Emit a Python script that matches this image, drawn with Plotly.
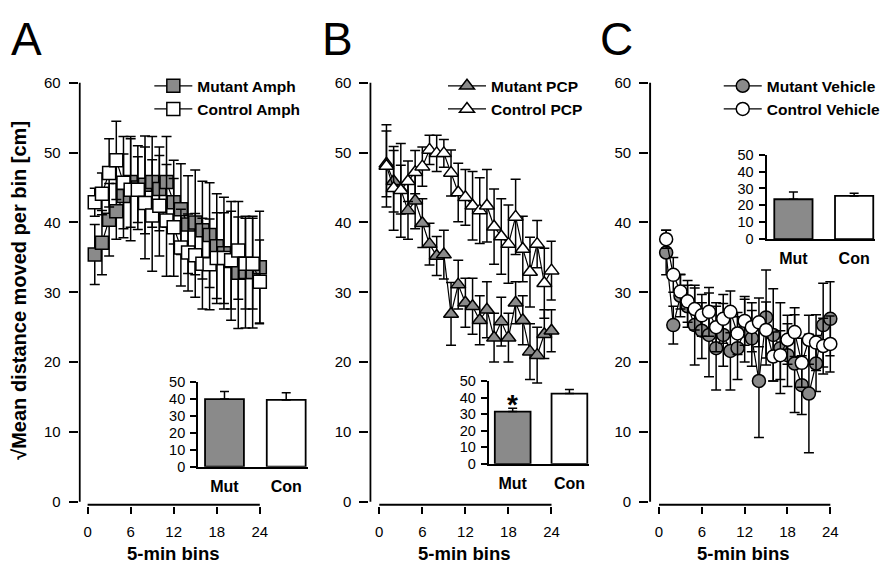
import plotly.graph_objects as go

W, H = 888, 570
GREY = "#8a8a8a"
FONT = "Arial, Liberation Sans, sans-serif"

# ---------------- data ----------------
bins = list(range(1, 25))

mut_amph = [35.4, 37.1, 40.4, 41.6, 43.8, 45.8, 45.0, 45.4, 45.8, 44.8, 45.8, 42.9,
            41.9, 39.7, 40.0, 38.9, 38.2, 36.6, 35.6, 34.5, 32.8, 32.9, 32.9, 33.6]
mut_amph_se = [4.3, 4.6, 5.2, 4.0, 6.0, 6.5, 6.0, 7.0, 6.5, 6.0, 6.5, 6.0,
               6.5, 7.0, 7.5, 7.0, 7.5, 7.5, 8.0, 8.5, 8.0, 8.0, 8.0, 8.0]
con_amph = [42.9, 44.1, 47.1, 48.9, 45.7, 44.7, 44.7, 42.8, 41.0, 42.4, 40.3, 39.3,
            36.4, 35.7, 35.3, 34.1, 34.0, 34.9, 34.9, 34.6, 36.0, 34.1, 34.1, 31.5]
con_amph_se = [2.0, 3.0, 4.9, 5.6, 6.6, 7.3, 4.7, 8.0, 8.0, 7.2, 8.0, 7.0,
               5.5, 5.5, 6.0, 6.5, 6.5, 6.5, 6.5, 7.0, 7.0, 6.5, 6.5, 6.0]

mut_pcp = [48.4, 45.9, 44.7, 41.7, 43.1, 39.9, 36.9, 35.2, 35.4, 26.9, 31.1, 28.5,
           28.0, 26.0, 27.5, 23.5, 25.8, 23.5, 28.5, 26.0, 21.5, 21.0, 24.0, 24.5]
mut_pcp_se = [4.7, 4.4, 3.5, 4.1, 4.0, 3.5, 3.0, 2.8, 3.5, 4.5, 3.5, 3.5,
              4.0, 3.5, 4.0, 3.5, 3.5, 3.5, 3.0, 3.5, 4.0, 4.0, 3.5, 3.0]
con_pcp = [48.1, 44.9, 44.6, 45.9, 47.2, 48.0, 50.4, 49.9, 49.9, 47.1, 44.3, 43.6,
           42.4, 41.7, 42.4, 39.4, 38.0, 36.9, 40.8, 36.2, 32.9, 36.9, 31.3, 33.1]
con_pcp_se = [5.9, 6.0, 6.7, 2.9, 3.1, 2.8, 2.1, 2.6, 2.0, 3.3, 4.2, 4.0,
              4.9, 4.7, 5.2, 5.4, 5.4, 5.6, 5.4, 4.7, 5.0, 3.4, 5.0, 4.2]

mut_veh = [35.7, 25.3, 29.5, 28.0, 25.3, 24.5, 23.9, 22.0, 23.9, 21.6, 22.0, 24.5,
           23.4, 17.3, 26.4, 23.9, 22.0, 21.0, 19.8, 16.7, 15.5, 19.8, 25.3, 26.2]
mut_veh_se = [3.2, 2.7, 3.0, 3.0, 5.7, 4.0, 6.0, 6.0, 4.5, 5.6, 4.5, 4.5,
              4.0, 8.1, 6.8, 6.6, 6.5, 4.5, 7.0, 4.2, 8.5, 4.0, 6.0, 5.3]
con_veh = [37.6, 32.5, 30.1, 28.7, 27.6, 26.7, 27.2, 25.0, 26.2, 27.2, 24.1, 25.9,
           25.0, 25.7, 24.6, 20.8, 21.0, 23.2, 24.3, 19.9, 23.2, 22.8, 22.3, 22.6]
con_veh_se = [1.3, 2.5, 2.5, 3.0, 3.0, 3.0, 3.5, 3.5, 3.5, 3.0, 3.0, 3.5,
              3.5, 3.5, 4.0, 3.5, 3.5, 3.5, 3.5, 3.5, 3.5, 4.0, 4.0, 4.0]

inset_groups = ["Mut", "Con"]
inset_amph = [40.0, 39.5]
inset_amph_se = [4.5, 4.2]
inset_pcp = [31.6, 42.5]
inset_pcp_se = [2.1, 2.5]
inset_veh = [23.6, 25.6]
inset_veh_se = [4.3, 1.5]

x_ticks = [0, 6, 12, 18, 24]
y_ticks = [0, 10, 20, 30, 40, 50, 60]
inset_y_ticks = [0, 10, 20, 30, 40, 50]

series = [
    ("Mutant Amph", "Control Amph", "square", mut_amph, mut_amph_se, con_amph, con_amph_se),
    ("Mutant PCP", "Control PCP", "triangle-up", mut_pcp, mut_pcp_se, con_pcp, con_pcp_se),
    ("Mutant Vehicle", "Control Vehicle", "circle", mut_veh, mut_veh_se, con_veh, con_veh_se),
]
insets = [(inset_amph, inset_amph_se), (inset_pcp, inset_pcp_se), (inset_veh, inset_veh_se)]

# ---------------- geometry (pixels) ----------------
def xdom(p0, ppu, r):
    return [(p0 + r[0] * ppu) / W, (p0 + r[1] * ppu) / W]

def yp(t):
    return 1 - t / H

def ydom(p0, ppu, r):
    return [yp(p0 - r[0] * ppu), yp(p0 - r[1] * ppu)]

main_geo = [dict(x0=88, ppu=7.208, yax=79), dict(x0=381, ppu=7.208, yax=371),
            dict(x0=662, ppu=7.17, yax=652)]
Y0, YPPU = 508, 7.183
YR = [-0.6, 60.3]

inset_geo = [dict(x0=225.5, ppu=62, yax=199, y0=472, yppu=1.74),
             dict(x0=515, ppu=57, yax=491, y0=469, yppu=1.70),
             dict(x0=797, ppu=61, yax=770, y0=237.7, yppu=1.734)]

legend_geo = [150, 445, 722]
title_x = [174, 467, 747]
letters = [("A", 26.5), ("B", 339), ("C", 619)]

fig = go.Figure()
layout = dict(width=W, height=H, margin=dict(l=0, r=0, t=0, b=0),
              paper_bgcolor="white", plot_bgcolor="rgba(0,0,0,0)",
              font=dict(family=FONT, color="black"), showlegend=True,
              annotations=[], shapes=[])

for k, (mname, cname, sym, m, mse, c, cse) in enumerate(series):
    ax = "" if k == 0 else str(k + 1)
    leg = "legend" if k == 0 else f"legend{k + 1}"
    for name, vals, se, fill in [(mname, m, mse, GREY), (cname, c, cse, "white")]:
        fig.add_trace(go.Scatter(
            x=bins, y=vals, mode="lines+markers", name=f"<b>{name}</b>",
            legend=leg, xaxis="x" + ax, yaxis="y" + ax, cliponaxis=False,
            line=dict(color="black", width=1.2),
            marker=dict(symbol=sym, size=13, color=fill, line=dict(color="black", width=1.5)),
            error_y=dict(type="data", array=se, color="black", thickness=1.5, width=5),
        ))
    g = main_geo[k]
    xr = [(g["yax"] - g["x0"]) / g["ppu"], 24.6]
    layout["xaxis" + ax] = dict(
        domain=xdom(g["x0"], g["ppu"], xr), range=xr, anchor="y" + ax,
        showgrid=False, zeroline=False, showline=False, tickmode="array", tickvals=x_ticks,
        ticks="outside", ticklen=7, tickwidth=2, tickcolor="black",
        tickfont=dict(size=15, family=FONT), ticklabelstandoff=5)
    layout["yaxis" + ax] = dict(
        domain=ydom(Y0, YPPU, YR), range=YR, anchor="x" + ax,
        showgrid=False, zeroline=False, showline=False, tickmode="array", tickvals=y_ticks,
        ticks="outside", ticklen=9, tickwidth=2, tickcolor="black",
        tickfont=dict(size=15, family=FONT), ticklabelstandoff=5)
    # axis lines (separated at the origin)
    layout["shapes"].append(dict(type="line", xref="x" + ax, yref="y" + ax,
                                 x0=xr[0] + 0.14, x1=xr[0] + 0.14, y0=0, y1=60,
                                 line=dict(color="black", width=2)))
    layout["shapes"].append(dict(type="line", xref="x" + ax, yref="y" + ax,
                                 x0=0, x1=24, y0=-0.42, y1=-0.42,
                                 line=dict(color="black", width=2)))
    layout[leg] = dict(x=legend_geo[k] / W, y=yp(63), xanchor="left", yanchor="top",
                       bgcolor="rgba(0,0,0,0)", borderwidth=0, itemwidth=38,
                       font=dict(size=15.5, family=FONT), tracegroupgap=0)
    layout["annotations"].append(dict(
        text="<b>5-min bins</b>", x=title_x[k] / W, y=yp(561), xref="paper", yref="paper",
        showarrow=False, font=dict(size=18.5, family=FONT), xanchor="center", yanchor="middle"))
    layout["annotations"].append(dict(
        text=letters[k][0], x=letters[k][1] / W, y=yp(31.5), xref="paper", yref="paper",
        showarrow=False, font=dict(size=46, family=FONT), xanchor="center", yanchor="middle"))

    # inset bar chart
    ia = str(k + 4)
    vals, se = insets[k]
    ig = inset_geo[k]
    fig.add_trace(go.Bar(
        x=[0, 1], y=vals, width=0.63, xaxis="x" + ia, yaxis="y" + ia, showlegend=False,
        marker=dict(color=[GREY, "white"], line=dict(color="black", width=1.8)),
        error_y=dict(type="data", symmetric=False, array=se, arrayminus=[0, 0],
                     color="black", thickness=1.5, width=4.5),
    ))
    ixr = [(ig["yax"] - ig["x0"]) / ig["ppu"], 1.35]
    iyr = [0, 50]
    layout["xaxis" + ia] = dict(
        domain=xdom(ig["x0"], ig["ppu"], ixr), range=ixr, anchor="y" + ia,
        showgrid=False, zeroline=False, showline=True, linewidth=2, linecolor="black",
        tickmode="array", tickvals=[0, 1], ticktext=[f"<b>{t}</b>" for t in inset_groups],
        ticks="", tickfont=dict(size=16, family=FONT), ticklabelstandoff=4)
    layout["yaxis" + ia] = dict(
        domain=ydom(ig["y0"], ig["yppu"], iyr), range=iyr, anchor="x" + ia,
        showgrid=False, zeroline=False, showline=True, linewidth=2, linecolor="black",
        tickmode="array", tickvals=inset_y_ticks, ticks="outside", ticklen=6, tickwidth=1.5,
        tickcolor="black", tickfont=dict(size=14.5, family=FONT), ticklabelstandoff=2)

# significance star on mutant PCP inset bar
layout["annotations"].append(dict(
    text="<b>*</b>", x=0, y=35.9, xref="x5", yref="y5", showarrow=False,
    font=dict(size=28, family=FONT), xanchor="center", yanchor="middle"))

# y-axis title
layout["annotations"].append(dict(
    text="<b>√Mean distance moved per bin [cm]</b>", x=19 / W, y=yp(290),
    xref="paper", yref="paper", showarrow=False, textangle=-90,
    font=dict(size=20, family=FONT), xanchor="center", yanchor="middle"))

fig.update_layout(**layout)
css_reset = ("var s=document.createElement('style');"
             "s.innerHTML='html,body{margin:0!important;padding:0!important;overflow:hidden;}';"
             "document.head.appendChild(s);")
fig.write_html("out.html", config={"displayModeBar": False}, post_script=css_reset)
